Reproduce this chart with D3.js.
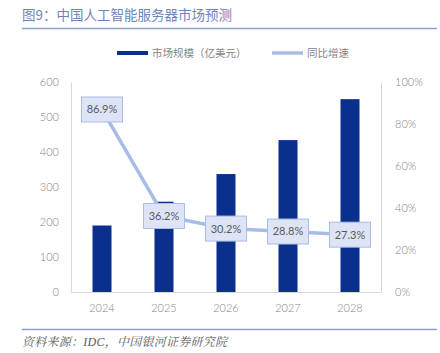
<!DOCTYPE html>
<html>
<head>
<meta charset="utf-8">
<script src="https://cdn.jsdelivr.net/npm/d3@7"></script>
<style>
  body { margin: 0; background: #fff; }
  svg { display: block; }
</style>
</head>
<body>
<div id="chart"></div>
<script>
// Chart data
const years = ['2024', '2025', '2026', '2027', '2028'];
const marketSize = [190, 258, 337, 434, 551];      // 亿美元
const growthRate = [86.9, 36.2, 30.2, 28.8, 27.3]; // %
const leftTicks = [0, 100, 200, 300, 400, 500, 600];
const rightTicks = [0, 20, 40, 60, 80, 100];

// Colors
const bar_color = '#0A2F8C';
const line_color = '#A8BDE6';
const label_fill = '#DEE4F5';
const text_color = '#858585';
const title_color = '#6E84B8';

const width = 440;
const height = 353;
const plot = { left: 71, right: 381, top: 82, bottom: 292 };
const cjk = '"Noto Sans CJK SC", "Noto Sans", sans-serif';
const num = 'Lato, "Noto Sans", sans-serif';

const svg = d3.select('#chart').append('svg')
    .attr('width', width)
    .attr('height', height);

// Title and the rule under it
svg.append('text')
    .attr('x', 22).attr('y', 20)
    .style('font-family', cjk).style('font-size', '13.5px')
    .attr('fill', title_color)
    .text('图9：中国人工智能服务器市场预测');
svg.append('line')
    .attr('x1', 22).attr('x2', 437).attr('y1', 28.5).attr('y2', 28.5)
    .attr('stroke', '#8DA1CF').attr('stroke-width', 1.5);

// Scales
const xScale = d3.scaleBand()
    .domain(years)
    .range([plot.left, plot.right])
    .padding(0);
const yLeft = d3.scaleLinear().domain([0, 600]).range([plot.bottom, plot.top]);
const yRight = d3.scaleLinear().domain([0, 100]).range([plot.bottom, plot.top]);

// Left axis
const leftAxis = svg.append('g')
    .attr('transform', `translate(${plot.left},0)`)
    .call(d3.axisLeft(yLeft).tickValues(leftTicks).tickSize(0).tickPadding(12));
// Right axis
const rightAxis = svg.append('g')
    .attr('transform', `translate(${plot.right},0)`)
    .call(d3.axisRight(yRight).tickValues(rightTicks).tickSize(0).tickPadding(14)
        .tickFormat(d => d + '%'));
// Bottom axis
const bottomAxis = svg.append('g')
    .attr('transform', `translate(0,${plot.bottom})`)
    .call(d3.axisBottom(xScale).tickSize(0).tickPadding(12));

[leftAxis, rightAxis, bottomAxis].forEach(g => {
    g.select('.domain').attr('stroke', '#D9D9D9');
    g.selectAll('text')
        .attr('fill', text_color)
        .style('font-family', num)
        .style('font-weight', 300)
        .style('font-size', '11px');
});

// Bars
const barWidth = 19;
svg.selectAll('.bar')
    .data(years)
    .enter().append('rect')
    .attr('class', 'bar')
    .attr('x', (d, i) => xScale(d) + xScale.bandwidth() / 2 - barWidth / 2)
    .attr('y', (d, i) => yLeft(marketSize[i]))
    .attr('width', barWidth)
    .attr('height', (d, i) => plot.bottom - yLeft(marketSize[i]))
    .attr('fill', bar_color);

// Growth line
const line = d3.line()
    .x((d, i) => xScale(years[i]) + xScale.bandwidth() / 2)
    .y(d => yRight(d));
svg.append('path')
    .datum(growthRate)
    .attr('d', line)
    .attr('fill', 'none')
    .attr('stroke', line_color)
    .attr('stroke-width', 3.5);

// Data labels with boxes
const labels = svg.selectAll('.lbl')
    .data(growthRate)
    .enter().append('g')
    .attr('class', 'lbl')
    .attr('transform', (d, i) =>
        `translate(${xScale(years[i]) + xScale.bandwidth() / 2},${yRight(d)})`);
labels.append('rect')
    .attr('x', -20.5).attr('y', -12.5)
    .attr('width', 41).attr('height', 25)
    .attr('fill', label_fill)
    .attr('stroke', line_color)
    .attr('stroke-width', 1);
labels.append('text')
    .attr('text-anchor', 'middle')
    .attr('dy', '0.36em')
    .attr('fill', '#595959')
    .style('font-family', num)
    .style('font-size', '11px')
    .text(d => d.toFixed(1) + '%');

// Legend
const legend = svg.append('g');
legend.append('rect')
    .attr('x', 117).attr('y', 51).attr('width', 31).attr('height', 4)
    .attr('fill', bar_color);
legend.append('text')
    .attr('x', 152).attr('y', 57)
    .attr('fill', text_color)
    .style('font-family', cjk).style('font-size', '10.5px')
    .text('市场规模（亿美元）');
legend.append('line')
    .attr('x1', 272).attr('x2', 303).attr('y1', 53).attr('y2', 53)
    .attr('stroke', line_color).attr('stroke-width', 3.5);
legend.append('text')
    .attr('x', 307).attr('y', 57)
    .attr('fill', text_color)
    .style('font-family', cjk).style('font-size', '10.5px')
    .text('同比增速');

// Footer rule and source
svg.append('line')
    .attr('x1', 22).attr('x2', 437).attr('y1', 329.5).attr('y2', 329.5)
    .attr('stroke', '#8DA1CF').attr('stroke-width', 1.5);
svg.append('text')
    .attr('x', 22).attr('y', 346)
    .attr('fill', '#595959')
    .style('font-family', '"Liberation Serif", "Noto Serif CJK SC", "Noto Sans CJK SC", serif')
    .style('font-size', '12px')
    .style('font-style', 'italic')
    .attr('textLength', 205)
    .text('资料来源：IDC，中国银河证券研究院');
</script>
</body>
</html>
